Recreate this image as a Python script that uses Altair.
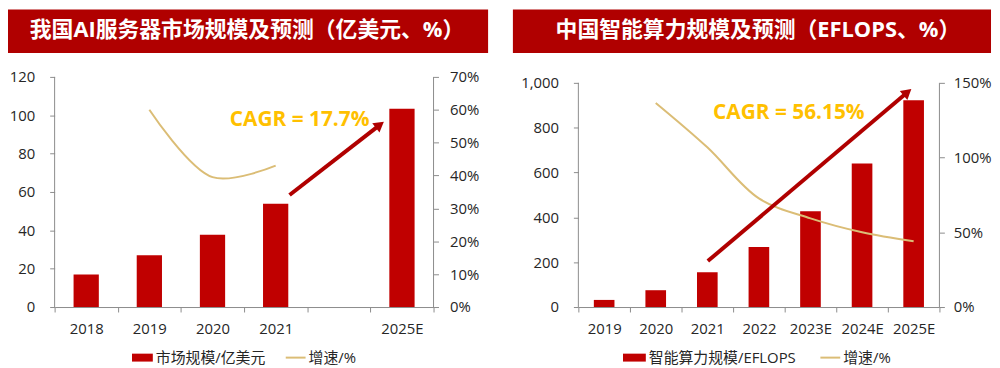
import altair as alt
import pandas as pd

FONT = "Open Sans, Noto Sans CJK SC"
RED = "#C00000"
BANNER = "#B00000"
ARROW = "#B00000"
TAN = "#DBBD76"
GOLD = "#FFC000"
AXIS_GRAY = "#8C8C8C"
LABEL = "#262626"

# ---------------- left panel data ----------------
l_title = "我国AI服务器市场规模及预测（亿美元、%）"
l_cats = ["2018", "2019", "2020", "2021", " ", "2025E"]
l_bar_cats = ["2018", "2019", "2020", "2021", "2025E"]
l_bar_vals = [16.9, 27.0, 37.7, 53.9, 103.4]
l_line_cats = ["2019", "2020", "2021"]
l_line_vals = [60.0, 39.5, 43.0]
l_y_domain = [0, 120]
l_y_ticks = [0, 20, 40, 60, 80, 100, 120]
l_y2_domain = [0, 70]
l_y2_ticks = [0, 10, 20, 30, 40, 50, 60, 70]
l_legend = ["市场规模/亿美元", "增速/%"]
l_cagr = ["CAGR = 17.7%"]
l_cagr_x = [3.88]
l_cagr_y = [97.3]
l_arrow_x = [3.72, 5.15]
l_arrow_y = [58.4, 95.0]

# ---------------- right panel data ----------------
r_title = "中国智能算力规模及预测（EFLOPS、%）"
r_cats = ["2019", "2020", "2021", "2022", "2023E", "2024E", "2025E"]
r_bar_cats = ["2019", "2020", "2021", "2022", "2023E", "2024E", "2025E"]
r_bar_vals = [31.7, 75.0, 155.2, 268.0, 427.0, 640.7, 922.8]
r_line_cats = ["2020", "2021", "2022", "2023E", "2024E", "2025E"]
r_line_vals = [136.6, 106.9, 72.7, 59.3, 50.0, 44.0]
# plot area extends slightly above the top tick in this panel
r_y_domain = [0, 1026.5]
r_y_ticks = [0, 200, 400, 600, 800, 1000]
r_y2_domain = [0, 154.0]
r_y2_ticks = [0, 50, 100, 150]
r_legend = ["智能算力规模/EFLOPS", "增速/%"]
r_cagr = ["CAGR = 56.15%"]
r_cagr_x = [4.08]
r_cagr_y = [867]
r_arrow_x = [2.51, 6.38]
r_arrow_y = [205, 958]


def panel(title, cats, bar_cats, bar_vals, line_cats, line_vals,
          y_domain, y_ticks, y2_domain, y2_ticks, legend, cagr, cagr_x, cagr_y,
          arrow_x, arrow_y, lay, y_format):
    xscale = alt.Scale(domain=cats, paddingInner=0, paddingOuter=0)
    nslots = len(cats)

    banner = alt.Chart(pd.DataFrame({"t": [title]})).mark_rect(color=BANNER).encode(
        x=alt.value(lay["banner"][0]), x2=alt.value(lay["banner"][1]),
        y=alt.value(lay["banner"][2]), y2=alt.value(lay["banner"][3]))
    banner_text = alt.Chart(pd.DataFrame({"t": [title]})).mark_text(
        font=FONT, fontSize=22, fontWeight="bold", color="white",
        align="center", baseline="middle").encode(
        x=alt.value(lay["title"][0]), y=alt.value(lay["title"][1]), text="t:N")

    bars = alt.Chart(pd.DataFrame({"cat": bar_cats, "v": bar_vals})).mark_bar(
        color=RED, width=alt.RelativeBandSize(0.4)).encode(
        x=alt.X("cat:N", sort=cats, scale=xscale,
                axis=alt.Axis(title=None, labelAngle=0, tickBand="extent",
                              labelPadding=10)),
        y=alt.Y("v:Q", scale=alt.Scale(domain=y_domain, nice=False),
                axis=alt.Axis(title=None, orient="left", values=y_ticks, domain=False,
                              format=y_format, labelPadding=lay["ypad"])))

    line = alt.Chart(pd.DataFrame({"cat": line_cats, "g": line_vals})).mark_line(
        color=TAN, strokeWidth=2, interpolate="catmull-rom").encode(
        x=alt.X("cat:N", sort=cats, scale=xscale, axis=None),
        y=alt.Y("g:Q", scale=alt.Scale(domain=y2_domain, nice=False),
                axis=alt.Axis(title=None, orient="right", values=y2_ticks, domain=False,
                              labelExpr="datum.value + '%'",
                              labelPadding=lay["y2pad"])))

    ax = alt.Scale(domain=[0, nslots], nice=False, zero=False)
    ay = alt.Scale(domain=y_domain, nice=False)

    # vertical axis lines, from 0 to the top tick
    dom_df = pd.DataFrame({"x": [0, nslots], "lo": [0, 0],
                           "hi": [y_ticks[-1], y_ticks[-1]]})
    dom = alt.Chart(dom_df).mark_rule(color=AXIS_GRAY, strokeWidth=1).encode(
        x=alt.X("x:Q", scale=ax, axis=None),
        y=alt.Y("lo:Q", scale=ay, axis=None), y2="hi:Q")

    arrow_df = pd.DataFrame({"ax": arrow_x, "ay": arrow_y, "i": [0, 1]})
    arrow = alt.Chart(arrow_df).mark_line(color=ARROW, strokeWidth=4).encode(
        x=alt.X("ax:Q", scale=ax, axis=None),
        y=alt.Y("ay:Q", scale=ay, axis=None), order="i:O")
    head = alt.Chart(arrow_df.iloc[[1]]).mark_point(
        shape="triangle-up", filled=True, size=140, angle=lay["angle"],
        color=ARROW, opacity=1).encode(
        x=alt.X("ax:Q", scale=ax, axis=None),
        y=alt.Y("ay:Q", scale=ay, axis=None))
    cagr_text = alt.Chart(pd.DataFrame({"x": cagr_x, "y": cagr_y, "t": cagr})).mark_text(
        font=FONT, fontSize=21, fontWeight="bold", color=GOLD,
        align="center", baseline="middle").encode(
        x=alt.X("x:Q", scale=ax, axis=None),
        y=alt.Y("y:Q", scale=ay, axis=None), text="t:N")

    ly = lay["leg_y"]
    leg_rect = alt.Chart(pd.DataFrame({"t": [legend[0]]})).mark_rect(color=RED).encode(
        x=alt.value(lay["leg_rect"][0]), x2=alt.value(lay["leg_rect"][1]),
        y=alt.value(ly - 4), y2=alt.value(ly + 4))
    leg_t1 = alt.Chart(pd.DataFrame({"t": [legend[0]]})).mark_text(
        font=FONT, fontSize=15, color=LABEL, align="left", baseline="middle").encode(
        x=alt.value(lay["leg_t1"]), y=alt.value(ly), text="t:N")
    leg_rule = alt.Chart(pd.DataFrame({"t": [legend[1]]})).mark_rule(
        color=TAN, strokeWidth=2).encode(
        x=alt.value(lay["leg_rule"][0]), x2=alt.value(lay["leg_rule"][1]),
        y=alt.value(ly))
    leg_t2 = alt.Chart(pd.DataFrame({"t": [legend[1]]})).mark_text(
        font=FONT, fontSize=15, color=LABEL, align="left", baseline="middle").encode(
        x=alt.value(lay["leg_t2"]), y=alt.value(ly), text="t:N")

    return alt.layer(
        banner, banner_text, bars, line, dom, arrow, head, cagr_text,
        leg_rect, leg_t1, leg_rule, leg_t2
    ).resolve_scale(x="independent", y="independent").properties(
        width=lay["w"], height=lay["h"])


left_lay = dict(w=382, h=232, banner=(-47, 437, -68, -24), title=(194, -47),
                leg_y=283, leg_rect=(78, 99), leg_t1=102, leg_rule=(233, 253), leg_t2=256,
                ypad=15, y2pad=11, angle=52)
right_lay = dict(w=364, h=232, banner=(-66, 416, -68, -24), title=(181, -47),
                 leg_y=283, leg_rect=(45, 68), leg_t1=71, leg_rule=(244, 264), leg_t2=267,
                 ypad=15, y2pad=9, angle=50)

left = panel(l_title, l_cats, l_bar_cats, l_bar_vals, l_line_cats, l_line_vals,
             l_y_domain, l_y_ticks, l_y2_domain, l_y2_ticks, l_legend, l_cagr,
             l_cagr_x, l_cagr_y, l_arrow_x, l_arrow_y, left_lay, "d")
right = panel(r_title, r_cats, r_bar_cats, r_bar_vals, r_line_cats, r_line_vals,
              r_y_domain, r_y_ticks, r_y2_domain, r_y2_ticks, r_legend, r_cagr,
              r_cagr_x, r_cagr_y, r_arrow_x, r_arrow_y, right_lay, ",d")

chart = alt.hconcat(left, right, spacing=25).properties(padding=0).configure_view(
    strokeWidth=0
).configure_axis(
    grid=False, domainColor=AXIS_GRAY, tickColor=AXIS_GRAY, tickSize=5,
    labelFont=FONT, labelFontSize=15, labelColor=LABEL
)

chart.save("out.html", embed_options={"renderer": "svg", "actions": False})
